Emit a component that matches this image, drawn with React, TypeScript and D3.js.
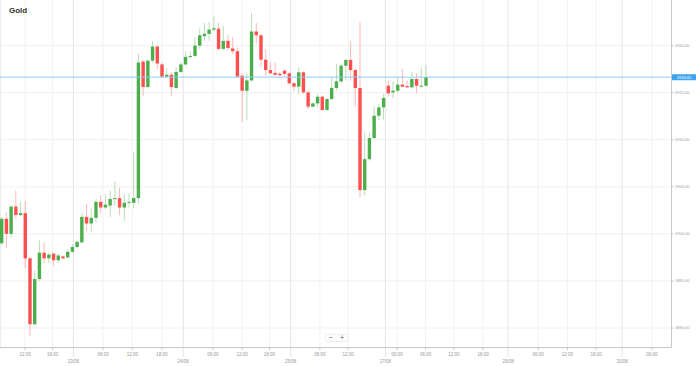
import React from "react";
import * as d3 from "d3";

const opens = [1899.0,1901.6,1900.0,1902.9,1902.0,1902.2,1897.4,1890.4,1895.2,1898.0,
1897.4,1897.9,1897.2,1897.6,1897.5,1898.1,1898.6,1899.1,1901.8,1901.1,
1901.7,1903.4,1902.8,1903.0,1903.7,1903.8,1902.8,1903.3,1903.3,1903.8,
1918.3,1915.6,1918.4,1919.9,1918.0,1916.7,1916.9,1915.5,1917.2,1918.0,
1918.8,1918.9,1920.0,1921.0,1921.25,1921.7,1921.8,1919.65,1920.5,1919.7,
1919.4,1916.8,1915.2,1916.3,1921.5,1921.1,1918.5,1917.4,1917.1,1917.0,
1917.34,1917.05,1916.0,1915.64,1917.16,1915.03,1913.51,1913.86,1914.57,1913.16,
1914.33,1915.5,1916.2,1917.87,1918.48,1917.41,1915.5,1904.65,1907.94,1910.18,
1912.55,1913.44,1915.74,1915.03,1915.21,1915.85,1915.7,1915.57,1916.45,1915.64,
1915.74];
const highs = [1901.8,1902.3,1903.0,1904.6,1903.4,1903.5,1897.5,1896.1,1899.3,1899.1,
1898.0,1898.0,1897.9,1897.7,1898.3,1898.9,1899.3,1902.1,1903.2,1902.7,
1903.7,1904.1,1904.2,1904.6,1905.6,1904.9,1904.3,1904.3,1908.65,1919.1,
1918.5,1918.5,1920.5,1920.0,1918.2,1917.6,1917.2,1917.7,1918.2,1919.4,
1919.4,1920.9,1921.8,1922.4,1922.5,1923.1,1922.4,1922.1,1921.1,1920.9,
1919.8,1917.0,1917.0,1923.45,1922.4,1921.2,1919.6,1918.2,1918.2,1917.2,
1917.5,1917.16,1916.1,1917.7,1917.27,1915.21,1913.95,1914.86,1914.7,1914.43,
1916.63,1918.05,1918.12,1918.58,1920.46,1917.52,1922.59,1910.78,1910.78,1913.51,
1913.8,1914.86,1916.28,1916.2,1916.7,1917.52,1916.28,1917.16,1917.05,1917.7,
1917.95];
const lows = [1898.8,1898.5,1899.6,1901.6,1901.9,1896.4,1889.1,1890.3,1895.0,1896.9,
1896.9,1896.6,1896.9,1897.3,1897.4,1898.0,1898.5,1899.0,1900.3,1900.2,
1901.2,1902.2,1902.6,1901.8,1903.0,1902.0,1901.4,1902.8,1902.7,1903.2,
1914.6,1915.5,1918.2,1917.5,1916.6,1916.6,1914.6,1915.4,1917.1,1917.9,
1918.6,1918.8,1919.6,1920.5,1920.5,1921.5,1919.5,1919.5,1919.5,1919.1,
1916.6,1911.9,1912.1,1916.2,1920.2,1917.7,1916.8,1917.0,1916.8,1916.7,
1916.8,1915.85,1915.2,1914.86,1914.86,1913.27,1913.44,1913.44,1913.09,1913.09,
1914.22,1915.21,1915.99,1916.28,1916.28,1913.51,1903.86,1904.04,1907.77,1910.07,
1912.1,1912.1,1914.57,1914.43,1915.03,1915.57,1915.5,1915.5,1914.93,1915.57,
1915.64];
const closes = [1901.6,1900.0,1902.9,1902.0,1902.2,1897.4,1890.4,1895.2,1898.0,1897.4,
1897.8,1897.2,1897.7,1897.4,1898.1,1898.6,1899.15,1901.8,1901.1,1901.7,
1903.4,1902.8,1903.1,1903.7,1903.8,1902.8,1903.3,1903.4,1903.8,1918.2,
1915.6,1918.4,1919.9,1918.1,1916.7,1916.9,1915.6,1917.2,1918.0,1918.8,
1918.9,1920.0,1921.1,1921.25,1921.7,1921.85,1919.65,1920.5,1919.75,1919.4,
1916.7,1915.2,1916.3,1921.5,1921.1,1918.5,1917.4,1917.05,1916.9,1916.85,
1916.99,1915.99,1915.64,1917.16,1915.03,1913.51,1913.86,1914.57,1913.16,1914.33,
1915.5,1916.2,1917.87,1918.48,1917.41,1915.5,1904.65,1907.94,1910.18,1912.55,
1913.44,1914.43,1914.93,1915.21,1915.85,1915.64,1915.57,1916.45,1915.74,1915.74,
1916.65];

const yTicks = [1890, 1895, 1900, 1905, 1910, 1915, 1920];
const timeTickPos = [4.95, 10.8, 21.5, 27.7, 34, 44.8, 51, 56.8, 67.5, 73.5, 83.9, 89.9, 95.9, 102.1, 113.8, 120, 126.1, 137.9];
const timeTickLabels = ["12:00","18:00","06:00","12:00","18:00","06:00","12:00","18:00","06:00","12:00","00:00","06:00","12:00","18:00","06:00","12:00","18:00","06:00"];
const dateTickPos = [15.2, 38.5, 61.3, 81.4, 107.4, 131.6];
const dateTickLabels = ["23/08","24/08","25/08","27/08","29/08","30/08"];
const title = "Gold";

const W = 699, H = 366;
const plotRight = 671.5;
const axisY = 347.5;
const GREEN = "#4cae4c";
const RED = "#ff4f4f";
const FONT = "'Liberation Sans', Arial, sans-serif";

export default function App() {
  const n = closes.length;
  const x = d3.scaleLinear().domain([0, n - 1]).range([1.7, 426]);
  const y = d3.scaleLinear().domain([1890, 1920]).range([328, 45.6]);
  const bw = 3.4;
  const last = closes[n - 1];
  const py = y(last);

  return (
    <svg width={W} height={H} style={{ position: "fixed", left: 0, top: 0, background: "#fff" }} fontFamily={FONT}>
      <rect x={0} y={0} width={W} height={H} fill="#fff" />
      {/* horizontal grid */}
      {yTicks.map((t) => (
        <line key={"hg" + t} x1={0} x2={plotRight} y1={y(t)} y2={y(t)} stroke="#f0f0f0" strokeWidth={1} />
      ))}
      {/* vertical grid */}
      {timeTickPos.map((p, i) => (
        <line key={"vg" + i} x1={x(p)} x2={x(p)} y1={0} y2={axisY} stroke="#f2f2f2" strokeWidth={1} />
      ))}
      {dateTickPos.map((p, i) => (
        <line key={"dg" + i} x1={x(p)} x2={x(p)} y1={0} y2={axisY} stroke="#e4e4e4" strokeWidth={1} />
      ))}
      <line x1={0.5} x2={0.5} y1={0} y2={axisY} stroke="#ececec" />
      {/* candles */}
      {closes.map((c, i) => {
        const o = opens[i];
        const up = c >= o;
        const col = up ? GREEN : RED;
        const top = y(Math.max(o, c));
        const bot = y(Math.min(o, c));
        const cx = x(i);
        return (
          <g key={"c" + i}>
            <line x1={cx} x2={cx} y1={y(highs[i])} y2={y(lows[i])} stroke={col} strokeOpacity={0.4} strokeWidth={1} />
            <rect x={cx - bw / 2} y={top} width={bw} height={Math.max(1, bot - top)} fill={col} />
          </g>
        );
      })}
      {/* current price line */}
      <line x1={0} x2={plotRight} y1={py} y2={py} stroke="#8fcdf4" strokeWidth={1} />
      {/* axes */}
      <line x1={plotRight} x2={plotRight} y1={0} y2={axisY} stroke="#c8c8c8" strokeWidth={1} />
      <line x1={0} x2={plotRight} y1={axisY} y2={axisY} stroke="#c8c8c8" strokeWidth={1} />
      {yTicks.map((t) => (
        <g key={"yt" + t}>
          <line x1={plotRight} x2={plotRight + 2} y1={y(t)} y2={y(t)} stroke="#c8c8c8" />
          <text x={675} y={y(t)} dy="0.35em" fontSize={4} fill="#999">{t.toFixed(2)}</text>
        </g>
      ))}
      <rect x={672} y={py - 3} width={24} height={6} fill="#3ea3f0" rx={0.5} />
      <text x={684} y={py} dy="0.35em" fontSize={4} fill="#fff" textAnchor="middle">{last.toFixed(2)}</text>
      {timeTickPos.map((p, i) => (
        <g key={"tt" + i}>
          <line x1={x(p)} x2={x(p)} y1={axisY} y2={axisY + 2.5} stroke="#c8c8c8" />
          <text x={x(p)} y={355.5} fontSize={4.5} fill="#999" textAnchor="middle">{timeTickLabels[i]}</text>
        </g>
      ))}
      {dateTickPos.map((p, i) => (
        <g key={"dt" + i}>
          <line x1={x(p)} x2={x(p)} y1={axisY} y2={357} stroke="#c8c8c8" strokeDasharray="1,1" />
          <text x={x(p)} y={362.5} fontSize={4.5} fill="#999" textAnchor="middle">{dateTickLabels[i]}</text>
        </g>
      ))}
      {/* title */}
      <text x={9} y={13.3} fontSize={8} fontWeight="bold" fill="#333">{title}</text>
      {/* zoom controls */}
      <rect x={325.5} y={334.5} width={22} height={7} fill="#fff" stroke="#eee" rx={1.5} />
      <text x={330.5} y={340.2} fontSize={7} fill="#555" textAnchor="middle">−</text>
      <text x={342} y={340.4} fontSize={7} fill="#555" textAnchor="middle">+</text>
    </svg>
  );
}
